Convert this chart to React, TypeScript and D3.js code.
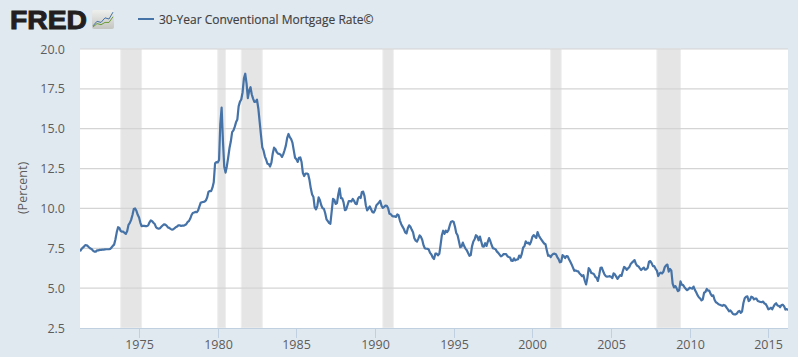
import React from "react";
import * as d3 from "d3";

const W = 798, H = 357;
const START_YEAR = 1971, START_MONTH = 3;
const rates: number[] = [
  7.31,7.43,7.53,7.60,7.70,7.69,7.63,7.55,7.48,
  7.44,7.34,7.29,7.29,7.37,7.37,7.40,7.40,7.42,7.42,7.43,7.44,
  7.44,7.44,7.46,7.54,7.65,7.73,8.05,8.50,8.82,8.77,8.58,8.54,
  8.54,8.46,8.41,8.58,8.97,9.09,9.28,9.59,9.96,10.00,9.85,9.60,
  9.43,9.10,8.89,8.90,8.91,8.89,8.89,8.94,9.13,9.25,9.20,9.10,
  9.02,8.81,8.76,8.73,8.76,8.85,8.93,9.00,8.98,8.92,8.81,8.78,
  8.72,8.67,8.69,8.75,8.82,8.86,8.94,8.94,8.90,8.92,8.92,8.96,
  9.01,9.15,9.20,9.35,9.57,9.71,9.74,9.78,9.76,9.86,10.11,10.35,
  10.39,10.41,10.43,10.50,10.69,11.04,11.09,11.09,11.30,11.64,12.83,12.90,
  12.88,13.04,15.28,16.33,14.26,12.61,12.25,12.65,13.20,13.79,14.21,14.79,
  14.90,15.13,15.40,15.58,16.40,16.70,16.83,17.29,18.16,18.45,17.83,16.92,
  17.40,17.60,17.16,16.89,16.68,16.70,16.82,16.27,15.43,14.61,13.83,13.62,
  13.25,13.04,12.80,12.78,12.63,12.87,13.43,13.81,13.73,13.54,13.44,13.42,
  13.37,13.23,13.39,13.65,13.94,14.42,14.67,14.47,14.35,14.13,13.64,13.18,
  13.08,12.92,13.17,13.20,12.91,12.22,12.03,12.19,12.19,12.14,11.78,11.26,
  10.88,10.71,10.08,9.94,10.15,10.69,10.51,10.20,10.01,9.98,9.70,9.32,
  9.20,9.08,9.04,9.83,10.60,10.54,10.28,10.33,10.89,11.26,10.65,10.64,
  10.38,9.89,9.93,10.20,10.46,10.46,10.43,10.60,10.48,10.30,10.27,10.61,
  10.73,10.65,11.03,11.05,10.77,10.20,9.88,9.99,10.13,9.95,9.77,9.74,
  9.90,10.20,10.27,10.37,10.48,10.16,10.04,10.10,10.18,10.17,10.01,9.67,
  9.64,9.53,9.50,9.50,9.47,9.62,9.57,9.24,9.01,8.86,8.71,8.50,
  8.43,8.76,8.94,8.85,8.67,8.51,8.13,7.98,7.92,8.09,8.31,8.22,
  8.02,7.68,7.50,7.47,7.47,7.42,7.21,7.11,6.92,6.83,7.16,7.17,
  7.06,7.15,7.68,8.32,8.60,8.40,8.61,8.51,8.64,8.93,9.17,9.20,
  9.15,8.83,8.46,8.32,7.96,7.57,7.61,7.86,7.64,7.48,7.38,7.20,
  7.03,7.08,7.62,7.93,8.07,8.32,8.25,8.00,8.23,7.92,7.62,7.60,
  7.82,7.65,7.90,8.14,7.94,7.69,7.50,7.48,7.43,7.29,7.21,7.10,
  6.99,7.04,7.13,7.14,7.14,7.00,6.95,6.92,6.72,6.71,6.87,6.74,
  6.79,6.81,7.04,6.92,7.15,7.55,7.63,7.94,7.82,7.85,7.74,7.91,
  8.21,8.33,8.24,8.15,8.52,8.29,8.15,8.03,7.91,7.80,7.75,7.38,
  7.03,7.05,6.95,7.08,7.15,7.16,7.13,6.95,6.82,6.62,6.66,7.07,
  7.00,6.89,7.01,6.99,6.81,6.65,6.49,6.29,6.09,6.11,6.07,6.05,
  5.92,5.84,5.75,5.81,5.48,5.23,5.63,6.26,6.15,5.95,5.93,5.88,
  5.71,5.64,5.45,5.83,6.27,6.29,6.06,5.87,5.75,5.72,5.73,5.75,
  5.71,5.63,5.93,5.86,5.72,5.58,5.70,5.82,5.77,6.07,6.33,6.27,
  6.15,6.25,6.32,6.51,6.60,6.68,6.76,6.52,6.40,6.36,6.24,6.14,
  6.22,6.29,6.16,6.18,6.26,6.66,6.70,6.57,6.38,6.38,6.21,6.10,
  5.76,5.92,5.97,5.92,6.04,6.32,6.43,6.48,6.04,6.20,6.09,5.29,
  5.05,5.13,5.00,4.81,4.86,5.42,5.22,5.19,5.06,4.95,4.88,4.93,
  5.03,4.99,4.97,5.10,4.89,4.74,4.56,4.43,4.35,4.23,4.30,4.71,
  4.76,4.95,4.84,4.84,4.64,4.51,4.55,4.27,4.11,4.07,3.99,3.96,
  3.92,3.89,3.95,3.91,3.80,3.68,3.55,3.60,3.50,3.38,3.35,3.35,
  3.41,3.53,3.57,3.45,3.54,4.07,4.37,4.46,4.49,4.19,4.26,4.46,
  4.43,4.30,4.34,4.34,4.19,4.16,4.13,4.12,4.16,4.04,4.00,3.86,
  3.67,3.71,3.77,3.67,3.84,3.98,4.05,3.91,3.89,3.80,3.94,3.96,
  3.87,3.66,3.69,3.61,
];
const recessions: [string, string][] = [
  ["1973-11-01","1975-03-01"],["1980-01-01","1980-07-01"],["1981-07-01","1982-11-01"],
  ["1990-07-01","1991-03-01"],["2001-03-01","2001-11-01"],["2007-12-01","2009-06-01"],
];
const yTicks = [2.5,5,7.5,10,12.5,15,17.5,20];
const xYears = [1975,1980,1985,1990,1995,2000,2005,2010,2015];
const seriesName = "30-Year Conventional Mortgage Rate©";
const yTitle = "(Percent)";
const iconBlue = [1,5,4,8,7,13];
const iconGreen = [0,3,2,4,4,9];

const left = 80, right = 788, top = 49, bottom = 328;
const font = "'Open Sans', sans-serif";

export default function App() {
  const x = d3.scaleUtc().domain([new Date(Date.UTC(1971,3,1)), new Date(Date.UTC(2016,3,1))]).range([left,right]);
  const y = d3.scaleLinear().domain([2.5,20]).range([bottom,top]);
  const pts = rates.map((v,i)=>({d:new Date(Date.UTC(START_YEAR,START_MONTH+i,1)),v}));
  const line = d3.line<{d:Date;v:number}>().x(p=>x(p.d)).y(p=>y(p.v));
  const ix = d3.scaleLinear().domain([0,iconBlue.length-1]).range([93,113]);
  const iy = d3.scaleLinear().domain([0,14]).range([27,11]);
  const iconLine = d3.line<number>().x((_,i)=>ix(i)).y(v=>iy(v));
  return (
    <svg width={W} height={H} style={{position:"absolute",left:0,top:0,display:"block"}} fontFamily={font}>
      <defs>
        <clipPath id="plot"><rect x={left} y={top-5} width={right-left} height={bottom-top+5}/></clipPath>
        <linearGradient id="ig" x1="0" y1="0" x2="0" y2="1"><stop offset="0" stopColor="#eef0ee"/><stop offset="1" stopColor="#c4c5c1"/></linearGradient>
      </defs>
      <rect width={W} height={H} fill="#e1e9f0"/>
      <rect x={left} y={top} width={right-left} height={bottom-top} fill="#fff"/>
      {recessions.map(([a,b])=>(
        <rect key={a} x={x(new Date(a))} y={top} width={x(new Date(b))-x(new Date(a))} height={bottom-top} fill="#e5e5e5" stroke="#eeeeee" strokeWidth={1}/>
      ))}
      {yTicks.map(t=>t===2.5?null:(
        <line key={t} x1={left} x2={right} y1={y(t)} y2={y(t)} stroke="#d4d4d4" strokeWidth={1.2}/>
      ))}
      <line x1={left} x2={right} y1={bottom+0.5} y2={bottom+0.5} stroke="#c0d0e0" strokeWidth={1.2}/>
      {xYears.map(yr=>{const px=Math.round(x(new Date(Date.UTC(yr,0,1))))+0.5;return(
        <g key={yr}>
          <line x1={px} x2={px} y1={bottom} y2={bottom+10} stroke="#c0d0e0"/>
          <text x={px} y={349} textAnchor="middle" fontSize={12.5} fill="#5c5c5c">{yr}</text>
        </g>);})}
      {yTicks.map(t=>(
        <text key={t} x={65} y={y(t)+4.5} textAnchor="end" fontSize={12.5} fill="#5c5c5c">{t.toFixed(1)}</text>
      ))}
      <text transform="translate(27,188) rotate(-90)" textAnchor="middle" fontSize={12.5} fill="#5c5c5c">{yTitle}</text>
      <path d={line(pts)!} fill="none" stroke="#4572a7" strokeWidth={2.2} strokeLinejoin="round" clipPath="url(#plot)"/>
      <line x1={138} x2={154} y1={19} y2={19} stroke="#4572a7" strokeWidth={2}/>
      <text x={159} y={23.5} fontSize={12} fill="#404040" stroke="#404040" strokeWidth={0.15}>{seriesName}</text>
      <text x={10} y={28.5} fontSize={26} fontWeight={700} fontFamily="'Liberation Sans', sans-serif" fill="#231f20" stroke="#231f20" strokeWidth={1} textLength={77} lengthAdjust="spacingAndGlyphs">FRED</text>
      <rect x={92} y={10} width={22} height={19} rx={2} fill="url(#ig)"/>
      <path d={iconLine(iconBlue)!} fill="none" stroke="#4572a7" strokeWidth={1}/>
      <path d={iconLine(iconGreen)!} fill="none" stroke="#6a9a3a" strokeWidth={1}/>
    </svg>
  );
}
